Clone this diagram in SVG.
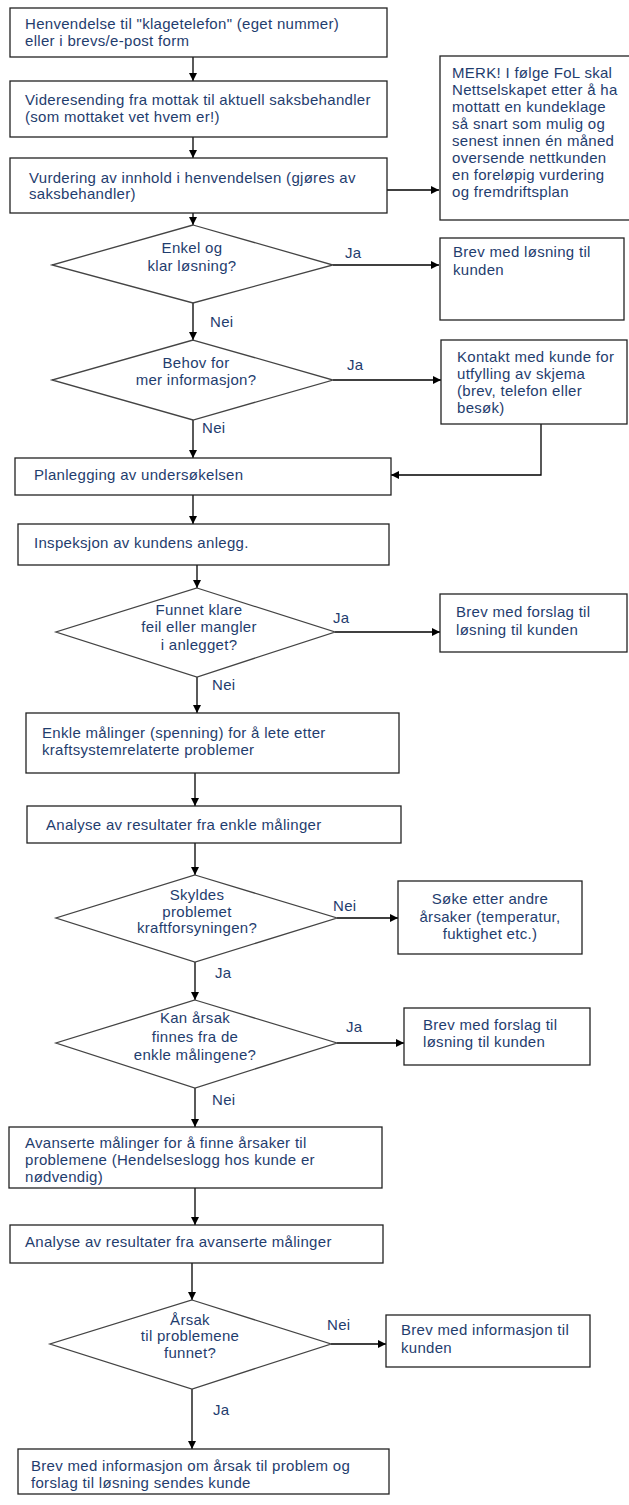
<svg xmlns="http://www.w3.org/2000/svg" width="629" height="1505" viewBox="0 0 629 1505">
<defs>
<marker id="ah" viewBox="0 0 10 10" refX="10" refY="5" markerWidth="9" markerHeight="8" markerUnits="userSpaceOnUse" orient="auto">
<path d="M0,0 L10,5 L0,10 z" fill="#000"/>
</marker>
<style>
.box{fill:#fff;stroke:#222;stroke-width:1.3}
.dia{fill:#fff;stroke:#444;stroke-width:1.3}
.t{font-family:"Liberation Sans",Arial,sans-serif;font-size:15px;letter-spacing:0.3px;fill:#1f3d6e}
.c{text-anchor:middle}
.ln{fill:none;stroke:#000;stroke-width:1.3;marker-end:url(#ah)}
</style>
</defs>
<rect width="629" height="1505" fill="#fff"/>
<g id="connectors">
<path class="ln" d="M193,57 V81"/>
<path class="ln" d="M193,137 V158"/>
<path class="ln" d="M193,213 V225"/>
<path class="ln" d="M387,190 H439"/>
<path class="ln" d="M333,265 H439"/>
<path class="ln" d="M193,303 V340"/>
<path class="ln" d="M333,380 H441"/>
<path class="ln" d="M193,420 V458"/>
<path class="ln" d="M541,424 V475 H391"/>
<path class="ln" d="M193,495 V524"/>
<path class="ln" d="M197,565 V588"/>
<path class="ln" d="M335,632 H440"/>
<path class="ln" d="M197,677 V713"/>
<path class="ln" d="M195,773 V806"/>
<path class="ln" d="M195,843 V875"/>
<path class="ln" d="M337,918 H398"/>
<path class="ln" d="M195,962 V1000"/>
<path class="ln" d="M337,1043 H404"/>
<path class="ln" d="M195,1088 V1127"/>
<path class="ln" d="M195,1188 V1225"/>
<path class="ln" d="M192,1263 V1300"/>
<path class="ln" d="M331,1344 H386"/>
<path class="ln" d="M192,1389 V1449"/>
<text class="t" x="345" y="258">Ja</text>
<text class="t" x="210" y="327">Nei</text>
<text class="t" x="347" y="370">Ja</text>
<text class="t" x="202" y="433">Nei</text>
<text class="t" x="333" y="623">Ja</text>
<text class="t" x="212" y="690">Nei</text>
<text class="t" x="333" y="911">Nei</text>
<text class="t" x="215" y="978">Ja</text>
<text class="t" x="346" y="1032">Ja</text>
<text class="t" x="212" y="1105">Nei</text>
<text class="t" x="327" y="1330">Nei</text>
<text class="t" x="213" y="1415">Ja</text>
</g>
<g id="n1"><rect class="box" x="10" y="8" width="377" height="49"/>
<text class="t" x="25" y="29">Henvendelse til "klagetelefon" (eget nummer)</text>
<text class="t" x="25" y="46">eller i brevs/e-post form</text></g>
<g id="n2"><rect class="box" x="10" y="81" width="377" height="56"/>
<text class="t" x="25" y="105">Videresending fra mottak til aktuell saksbehandler</text>
<text class="t" x="25" y="122">(som mottaket vet hvem er!)</text></g>
<g id="merk"><rect class="box" x="440" y="56" width="195" height="164"/>
<text class="t" x="452" y="78">MERK! I følge FoL skal</text>
<text class="t" x="452" y="95">Nettselskapet etter å ha</text>
<text class="t" x="452" y="112">mottatt en kundeklage</text>
<text class="t" x="452" y="129">så snart som mulig og</text>
<text class="t" x="452" y="146">senest innen én måned</text>
<text class="t" x="452" y="163">oversende nettkunden</text>
<text class="t" x="452" y="180">en  foreløpig vurdering</text>
<text class="t" x="452" y="197">og fremdriftsplan</text></g>
<g id="n3"><rect class="box" x="10" y="158" width="377" height="55"/>
<text class="t" x="29" y="183">Vurdering av innhold i henvendelsen (gjøres av</text>
<text class="t" x="29" y="199">saksbehandler)</text></g>
<g id="d1"><polygon class="dia" points="193,225 333,265 193,303 52,265"/>
<text class="t c" x="192" y="253">Enkel og</text>
<text class="t c" x="192" y="271">klar løsning?</text></g>
<g id="r1"><rect class="box" x="440" y="238" width="184" height="82"/>
<text class="t" x="453" y="257">Brev med løsning til</text>
<text class="t" x="453" y="275">kunden</text></g>
<g id="d2"><polygon class="dia" points="193,340 333,380 193,420 52,380"/>
<text class="t c" x="196" y="368">Behov for</text>
<text class="t c" x="196" y="385">mer informasjon?</text></g>
<g id="r2"><rect class="box" x="441" y="340" width="186" height="84"/>
<text class="t" x="457" y="362">Kontakt med kunde for</text>
<text class="t" x="457" y="379">utfylling av skjema</text>
<text class="t" x="457" y="396">(brev, telefon eller</text>
<text class="t" x="457" y="413">besøk)</text></g>
<g id="n4"><rect class="box" x="15" y="458" width="376" height="37"/>
<text class="t" x="34" y="480">Planlegging av undersøkelsen</text></g>
<g id="n5"><rect class="box" x="18" y="524" width="371" height="41"/>
<text class="t" x="34" y="548">Inspeksjon av kundens anlegg.</text></g>
<g id="d3"><polygon class="dia" points="197,588 335,632 197,677 56,632"/>
<text class="t c" x="199" y="615">Funnet klare</text>
<text class="t c" x="199" y="632">feil eller mangler</text>
<text class="t c" x="199" y="650">i anlegget?</text></g>
<g id="r3"><rect class="box" x="440" y="594" width="187" height="58"/>
<text class="t" x="456" y="617">Brev med forslag til</text>
<text class="t" x="456" y="635">løsning til kunden</text></g>
<g id="n6"><rect class="box" x="26" y="713" width="373" height="60"/>
<text class="t" x="42" y="738">Enkle målinger (spenning) for å lete etter</text>
<text class="t" x="42" y="755">kraftsystemrelaterte problemer</text></g>
<g id="n7"><rect class="box" x="27" y="806" width="374" height="37"/>
<text class="t" x="46" y="830">Analyse av resultater fra enkle målinger</text></g>
<g id="d4"><polygon class="dia" points="195,875 337,918 195,962 56,918"/>
<text class="t c" x="197" y="900">Skyldes</text>
<text class="t c" x="197" y="917">problemet</text>
<text class="t c" x="197" y="933">kraftforsyningen?</text></g>
<g id="r4"><rect class="box" x="398" y="881" width="184" height="73"/>
<text class="t c" x="490" y="904">Søke etter andre</text>
<text class="t c" x="490" y="922">årsaker (temperatur,</text>
<text class="t c" x="490" y="939">fuktighet etc.)</text></g>
<g id="d5"><polygon class="dia" points="195,1000 337,1043 195,1088 56,1043"/>
<text class="t c" x="195" y="1023">Kan årsak</text>
<text class="t c" x="195" y="1042">finnes fra de</text>
<text class="t c" x="195" y="1060">enkle målingene?</text></g>
<g id="r5"><rect class="box" x="404" y="1008" width="186" height="57"/>
<text class="t" x="423" y="1030">Brev med forslag til</text>
<text class="t" x="423" y="1047">løsning til kunden</text></g>
<g id="n8"><rect class="box" x="9" y="1127" width="373" height="61"/>
<text class="t" x="25" y="1148">Avanserte målinger for å finne årsaker til</text>
<text class="t" x="25" y="1165">problemene (Hendelseslogg hos kunde er</text>
<text class="t" x="25" y="1182">nødvendig)</text></g>
<g id="n9"><rect class="box" x="10" y="1225" width="373" height="38"/>
<text class="t" x="25" y="1247">Analyse av resultater fra avanserte målinger</text></g>
<g id="d6"><polygon class="dia" points="192,1300 331,1344 192,1389 50,1344"/>
<text class="t c" x="190" y="1325">Årsak</text>
<text class="t c" x="190" y="1341">til problemene</text>
<text class="t c" x="190" y="1358">funnet?</text></g>
<g id="r6"><rect class="box" x="386" y="1315" width="204" height="52"/>
<text class="t" x="401" y="1335">Brev med informasjon til</text>
<text class="t" x="401" y="1353">kunden</text></g>
<g id="n10"><rect class="box" x="18" y="1449" width="371" height="45"/>
<text class="t" x="31" y="1471">Brev med informasjon om årsak til problem og</text>
<text class="t" x="31" y="1488">forslag til løsning sendes kunde</text></g>
</svg>
